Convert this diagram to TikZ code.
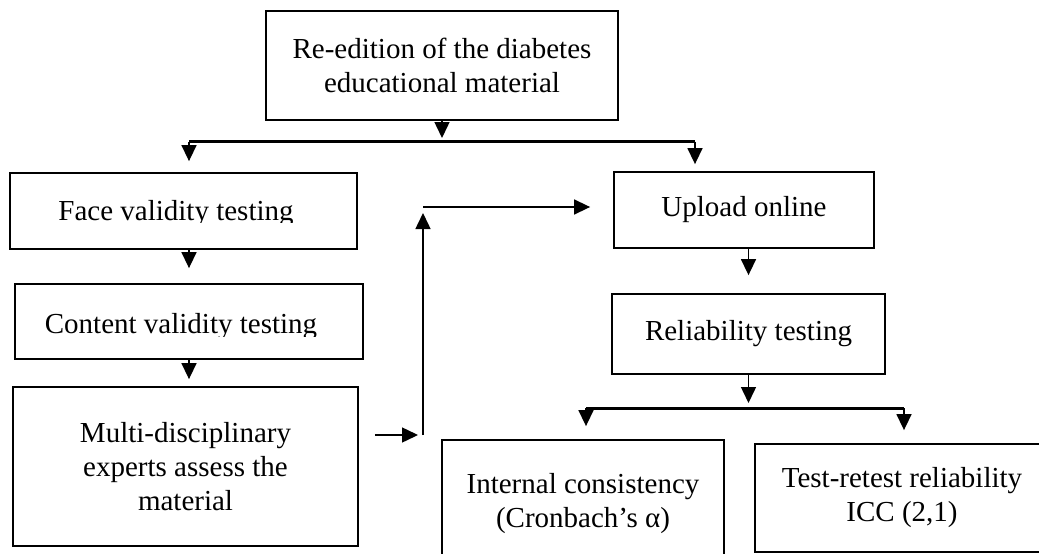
\documentclass[tikz,border=0pt]{standalone}
\usepackage{fontspec}
\setmainfont{Liberation Serif}
\usetikzlibrary{arrows.meta}

\tikzset{
  box/.style={draw=black, line width=1.8pt, rectangle, inner sep=0pt,
              align=center, font=\fontsize{29}{34}\selectfont},
  txt/.style={inner sep=0pt, font=\fontsize{29}{34}\selectfont},
  link/.style={line width=1.5pt, -{Triangle[width=15pt,length=16pt]}},
  bar/.style={line width=3pt}
}

\begin{document}
\begin{tikzpicture}[x=1pt,y=-1pt]
  \useasboundingbox (0,0) rectangle (1039,554);
  \clip (0,0) rectangle (1039,554);

  % boxes
  \node[box, minimum width=352pt, minimum height=109pt] (top) at (442,65.5)
    {Re-edition of the diabetes\\educational material};
  \node[box, minimum width=347pt, minimum height=76pt] (face) at (183.5,211) {};
  \node[box, minimum width=348pt, minimum height=75pt] (content) at (189,321.5) {};
  \node[box, minimum width=345pt, minimum height=159pt] (multi) at (185.5,466.5)
    {Multi-disciplinary\\experts assess the\\material};
  \node[box, minimum width=260pt, minimum height=76pt] (upload) at (744,210)
    {Upload online};
  \node[box, minimum width=273pt, minimum height=80pt] (reli) at (748.5,334)
    {Reliability testing};
  \node[box, minimum width=282pt, minimum height=127pt] (intc) at (583,503.5)
    {Internal consistency\\(Cronbach’s α)};
  \node[box, minimum width=294pt, minimum height=108pt] (trr) at (902,498)
    {Test-retest reliability\\ICC (2,1)};

  % labels whose descenders are cut by their frame
  \begin{scope}
    \clip (10,173) rectangle (357,222.5);
    \node[txt, anchor=base] (facetext) at (176,220) {Face validity testing};
  \end{scope}
  \begin{scope}
    \clip (15,284) rectangle (363,336.5);
    \node[txt, anchor=base] (contenttext) at (181,333.3) {Content validity testing};
  \end{scope}

  % junction points
  \coordinate (b1)  at (442,141.5);
  \coordinate (b1L) at (189,141.5);
  \coordinate (b1R) at (695,141.5);
  \coordinate (j1)  at (418,435);
  \coordinate (j2)  at (423,435);
  \coordinate (j3)  at (423,207);
  \coordinate (b2)  at (750,408);
  \coordinate (b2L) at (586,408);
  \coordinate (b2R) at (904,408);

  % top split
  \draw[link, shorten >=3.5pt] (top.south) -- (b1);
  \draw[bar] (b1L) -- (b1R);
  \draw[link, shorten >=11pt] (b1L) -- (b1L |- face.north);
  \draw[link, shorten >=7pt] (b1R) -- (b1R |- upload.north);

  % left column
  \draw[link, shorten >=15pt] (content.north |- face.south) -- (content.north);
  \draw[link, shorten >=7pt] (content.south) -- (content.south |- multi.north);

  % route over to the upload step
  \draw[link, shorten <=16pt] (multi.east |- j1) -- (j1);
  \draw[link, shorten >=6pt] (j2) -- (j3);
  \draw[link, shorten >=23pt] (j3) -- (j3 -| upload.west);

  % right column
  \draw[link, shorten >=18pt] (reli.north |- upload.south) -- (reli.north);
  \draw[link, shorten >=5pt] (reli.south) -- (reli.south |- b2);
  \draw[bar] (b2L) -- (b2R);
  \draw[link, shorten >=13pt] (b2L) -- (b2L |- intc.north);
  \draw[link, shorten >=13pt] (b2R) -- (b2R |- trr.north);
\end{tikzpicture}
\end{document}
